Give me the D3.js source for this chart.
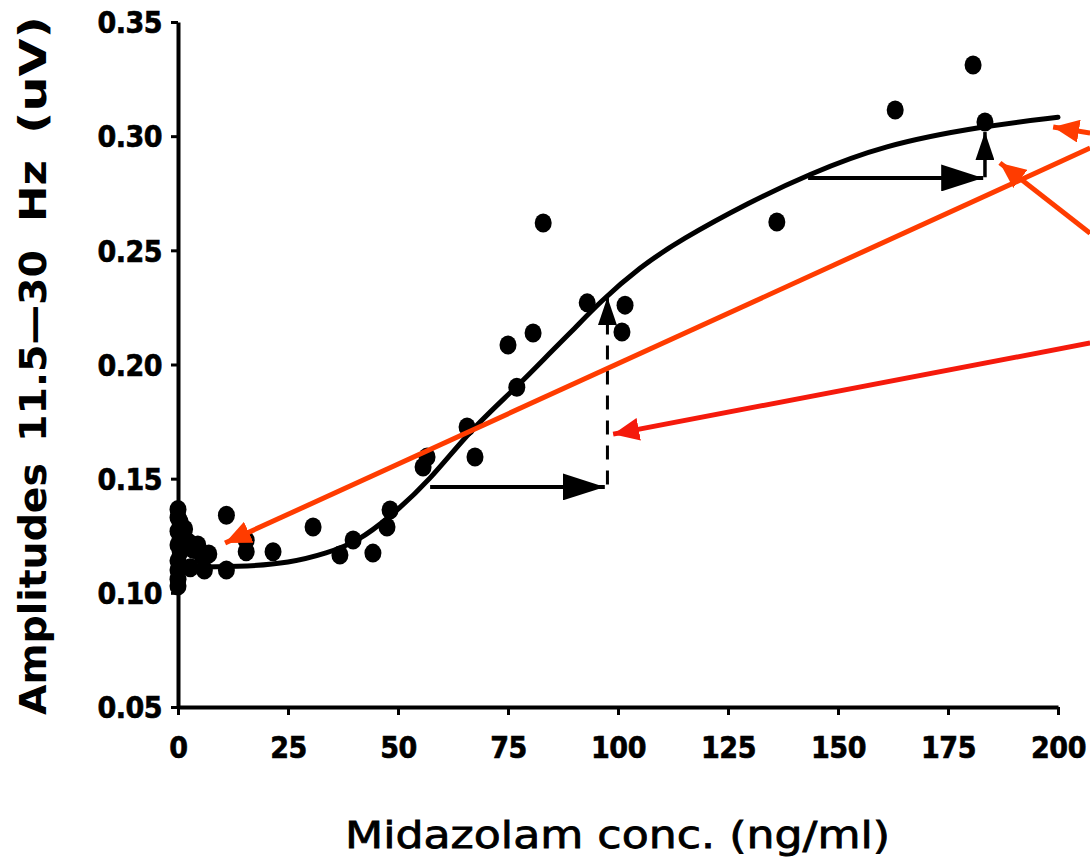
<!DOCTYPE html>
<html>
<head>
<meta charset="utf-8">
<script src="https://cdn.jsdelivr.net/npm/d3@7"></script>
<style>
  body { margin: 0; background: #fff; }
  svg { display: block; }
</style>
</head>
<body>
<div id="chart"></div>
<script>
// tick values
var xTicks = [0, 25, 50, 75, 100, 125, 150, 175, 200];
var yTicks = [0.05, 0.10, 0.15, 0.20, 0.25, 0.30, 0.35];

// measured points: midazolam conc (ng/ml) vs amplitude (uV)
var concs = [0, 0.5, 0, 1, 0, 0.5, 0, 0, 0, 0, 0, 1.5, 2.5, 3.5, 4.5, 5.5, 7, 2.8, 6, 11, 11,
  15.5, 15.5, 21.6, 30.7, 36.8, 39.8, 44.3, 47.5, 48.2,
  55.7, 56.6, 65.7, 67.5, 75, 77, 80.7, 83, 93, 101.6, 100.9,
  136.1, 163, 180.7, 183.4];
var amps = [0.1365, 0.131, 0.127, 0.124, 0.121, 0.118, 0.114, 0.110, 0.106, 0.103, 0.133, 0.128, 0.122, 0.119, 0.121, 0.116, 0.117, 0.111, 0.110, 0.134, 0.110,
  0.123, 0.118, 0.118, 0.1288, 0.1166, 0.1231, 0.1174, 0.1288, 0.1363,
  0.1551, 0.1595, 0.1726, 0.1595, 0.2085, 0.190, 0.2138, 0.262, 0.227, 0.226, 0.2142,
  0.2624, 0.3115, 0.3312, 0.3062];

// fitted curve
var fitConc = [0, 14.1, 25.5, 33.9, 40.7, 48.2, 57.3, 66.4, 77, 85.2, 89.8, 95.9, 105, 114.1, 130, 143, 160.2, 183, 200];
var fitAmp = [0.1113, 0.1113, 0.1131, 0.1174, 0.1223, 0.1332, 0.1494, 0.1713, 0.1901, 0.2064, 0.2151, 0.2274, 0.2427, 0.2545, 0.2712, 0.2830, 0.2961, 0.3044, 0.3083];

// black step arrows [x1, y1, x2, y2]
var hArrows = [[57.3, 0.1464, 97, 0.1464], [143.2, 0.2817, 183, 0.2817]];
var dashArrow = [97.6, 0.1475, 97.6, 0.2295];
var upArrow = [183.4, 0.2820, 183.4, 0.3018];

// red annotation arrows [x1, y1, x2, y2] (tail off the right edge)
var redArrows = [
  [207.3, 0.3014, 198.9, 0.3040],
  [207.3, 0.2948, 10.7, 0.1218],
  [207.3, 0.2575, 186.8, 0.2883]
];
var redArrow2 = [207.3, 0.2094, 98.9, 0.1695];

var W = 1090, H = 863;
var svg = d3.select("#chart").append("svg").attr("width", W).attr("height", H);

var x = d3.scaleLinear().domain([0, 200]).range([178, 1058]);
var y = d3.scaleLinear().domain([0.05, 0.35]).range([707, 22]);

var defs = svg.append("defs");
function marker(id, len, wid, color) {
  defs.append("marker")
    .attr("id", id)
    .attr("markerUnits", "userSpaceOnUse")
    .attr("viewBox", `0 0 ${len} ${wid}`)
    .attr("refX", len).attr("refY", wid / 2)
    .attr("markerWidth", len).attr("markerHeight", wid)
    .attr("orient", "auto")
    .append("path")
    .attr("d", `M0,0L${len},${wid / 2}L0,${wid}Z`)
    .attr("fill", color);
}
marker("bigHead", 42, 27, "#000");
marker("smallHead", 28, 19, "#000");
marker("redHead", 26, 23, "#ff3c00");
marker("redHead2", 26, 23, "#f51a0c");

// axes
var xAxis = svg.append("g")
  .attr("transform", `translate(0,${y(0.05)})`)
  .call(d3.axisBottom(x).tickValues(xTicks).tickSize(8).tickPadding(22).tickSizeOuter(0).tickFormat(d3.format("d")));
var yAxis = svg.append("g")
  .attr("transform", `translate(${x(0)},0)`)
  .call(d3.axisLeft(y).tickValues(yTicks).tickSize(7).tickPadding(9).tickSizeOuter(0).tickFormat(d3.format(".2f")));

[xAxis, yAxis].forEach(function (g) {
  g.select(".domain").attr("stroke", "#000").attr("stroke-width", 4);
  g.selectAll(".tick line").attr("stroke", "#000").attr("stroke-width", 3);
  g.selectAll(".tick text")
    .attr("fill", "#000")
    .attr("stroke", "#000")
    .attr("stroke-width", 0.6)
    .style("font-family", "'DejaVu Sans Condensed', 'DejaVu Sans', sans-serif")
    .style("font-weight", "bold")
    .style("font-size", "30px")
    .style("letter-spacing", "-0.5px");
});
yAxis.selectAll(".tick text").attr("dy", "0.36em");

// fitted curve
var line = d3.line()
  .x(function (d, i) { return x(fitConc[i]); })
  .y(function (d, i) { return y(fitAmp[i]); })
  .curve(d3.curveBasis);
svg.append("path")
  .datum(fitConc)
  .attr("d", line)
  .attr("fill", "none")
  .attr("stroke", "#000")
  .attr("stroke-width", 5)
  .attr("stroke-linecap", "round");

// dots
svg.append("g").selectAll("ellipse")
  .data(concs)
  .enter().append("ellipse")
  .attr("cx", function (d) { return x(d); })
  .attr("cy", function (d, i) { return y(amps[i]); })
  .attr("rx", 8.5)
  .attr("ry", 9.5)
  .attr("fill", "#000");

// black arrows
svg.append("g").selectAll("line")
  .data(hArrows)
  .enter().append("line")
  .attr("x1", function (d) { return x(d[0]); })
  .attr("y1", function (d) { return y(d[1]); })
  .attr("x2", function (d) { return x(d[2]); })
  .attr("y2", function (d) { return y(d[3]); })
  .attr("stroke", "#000")
  .attr("stroke-width", 4)
  .attr("marker-end", "url(#bigHead)");

svg.append("line")
  .attr("x1", x(dashArrow[0])).attr("y1", y(dashArrow[1]))
  .attr("x2", x(dashArrow[2])).attr("y2", y(dashArrow[3]))
  .attr("stroke", "#000")
  .attr("stroke-width", 3)
  .attr("stroke-dasharray", "14,11")
  .attr("marker-end", "url(#smallHead)");

svg.append("line")
  .attr("x1", x(upArrow[0])).attr("y1", y(upArrow[1]))
  .attr("x2", x(upArrow[2])).attr("y2", y(upArrow[3]))
  .attr("stroke", "#000")
  .attr("stroke-width", 3.5)
  .attr("marker-end", "url(#smallHead)");

// red annotation arrows
svg.append("g").selectAll("line")
  .data(redArrows)
  .enter().append("line")
  .attr("x1", function (d) { return x(d[0]); })
  .attr("y1", function (d) { return y(d[1]); })
  .attr("x2", function (d) { return x(d[2]); })
  .attr("y2", function (d) { return y(d[3]); })
  .attr("stroke", "#ff3c00")
  .attr("stroke-width", 5)
  .attr("marker-end", "url(#redHead)");

svg.append("line")
  .attr("x1", x(redArrow2[0])).attr("y1", y(redArrow2[1]))
  .attr("x2", x(redArrow2[2])).attr("y2", y(redArrow2[3]))
  .attr("stroke", "#f51a0c")
  .attr("stroke-width", 5)
  .attr("marker-end", "url(#redHead2)");

// axis titles
var titleWords = [
  { t: "Amplitudes", y0: 715, len: 252 },
  { t: "11.5\u201430", y0: 442, len: 192 },
  { t: "Hz", y0: 222, len: 62 },
  { t: "(uV)", y0: 134, len: 118 }
];
titleWords.forEach(function (w) {
  svg.append("text")
    .attr("transform", `translate(46,${w.y0}) rotate(-90)`)
    .attr("textLength", w.len)
    .attr("lengthAdjust", "spacingAndGlyphs")
    .style("font-family", "'DejaVu Sans', sans-serif")
    .style("font-weight", "bold")
    .style("font-size", "37px")
    .attr("fill", "#000")
    .text(w.t);
});

svg.append("text")
  .attr("x", 345)
  .attr("y", 848)
  .attr("textLength", 545)
  .attr("lengthAdjust", "spacingAndGlyphs")
  .style("font-family", "'DejaVu Sans', sans-serif")
  .style("font-size", "38px")
  .attr("fill", "#000")
  .attr("stroke", "#000")
  .attr("stroke-width", 0.8)
  .text("Midazolam conc. (ng/ml)");
</script>
</body>
</html>
